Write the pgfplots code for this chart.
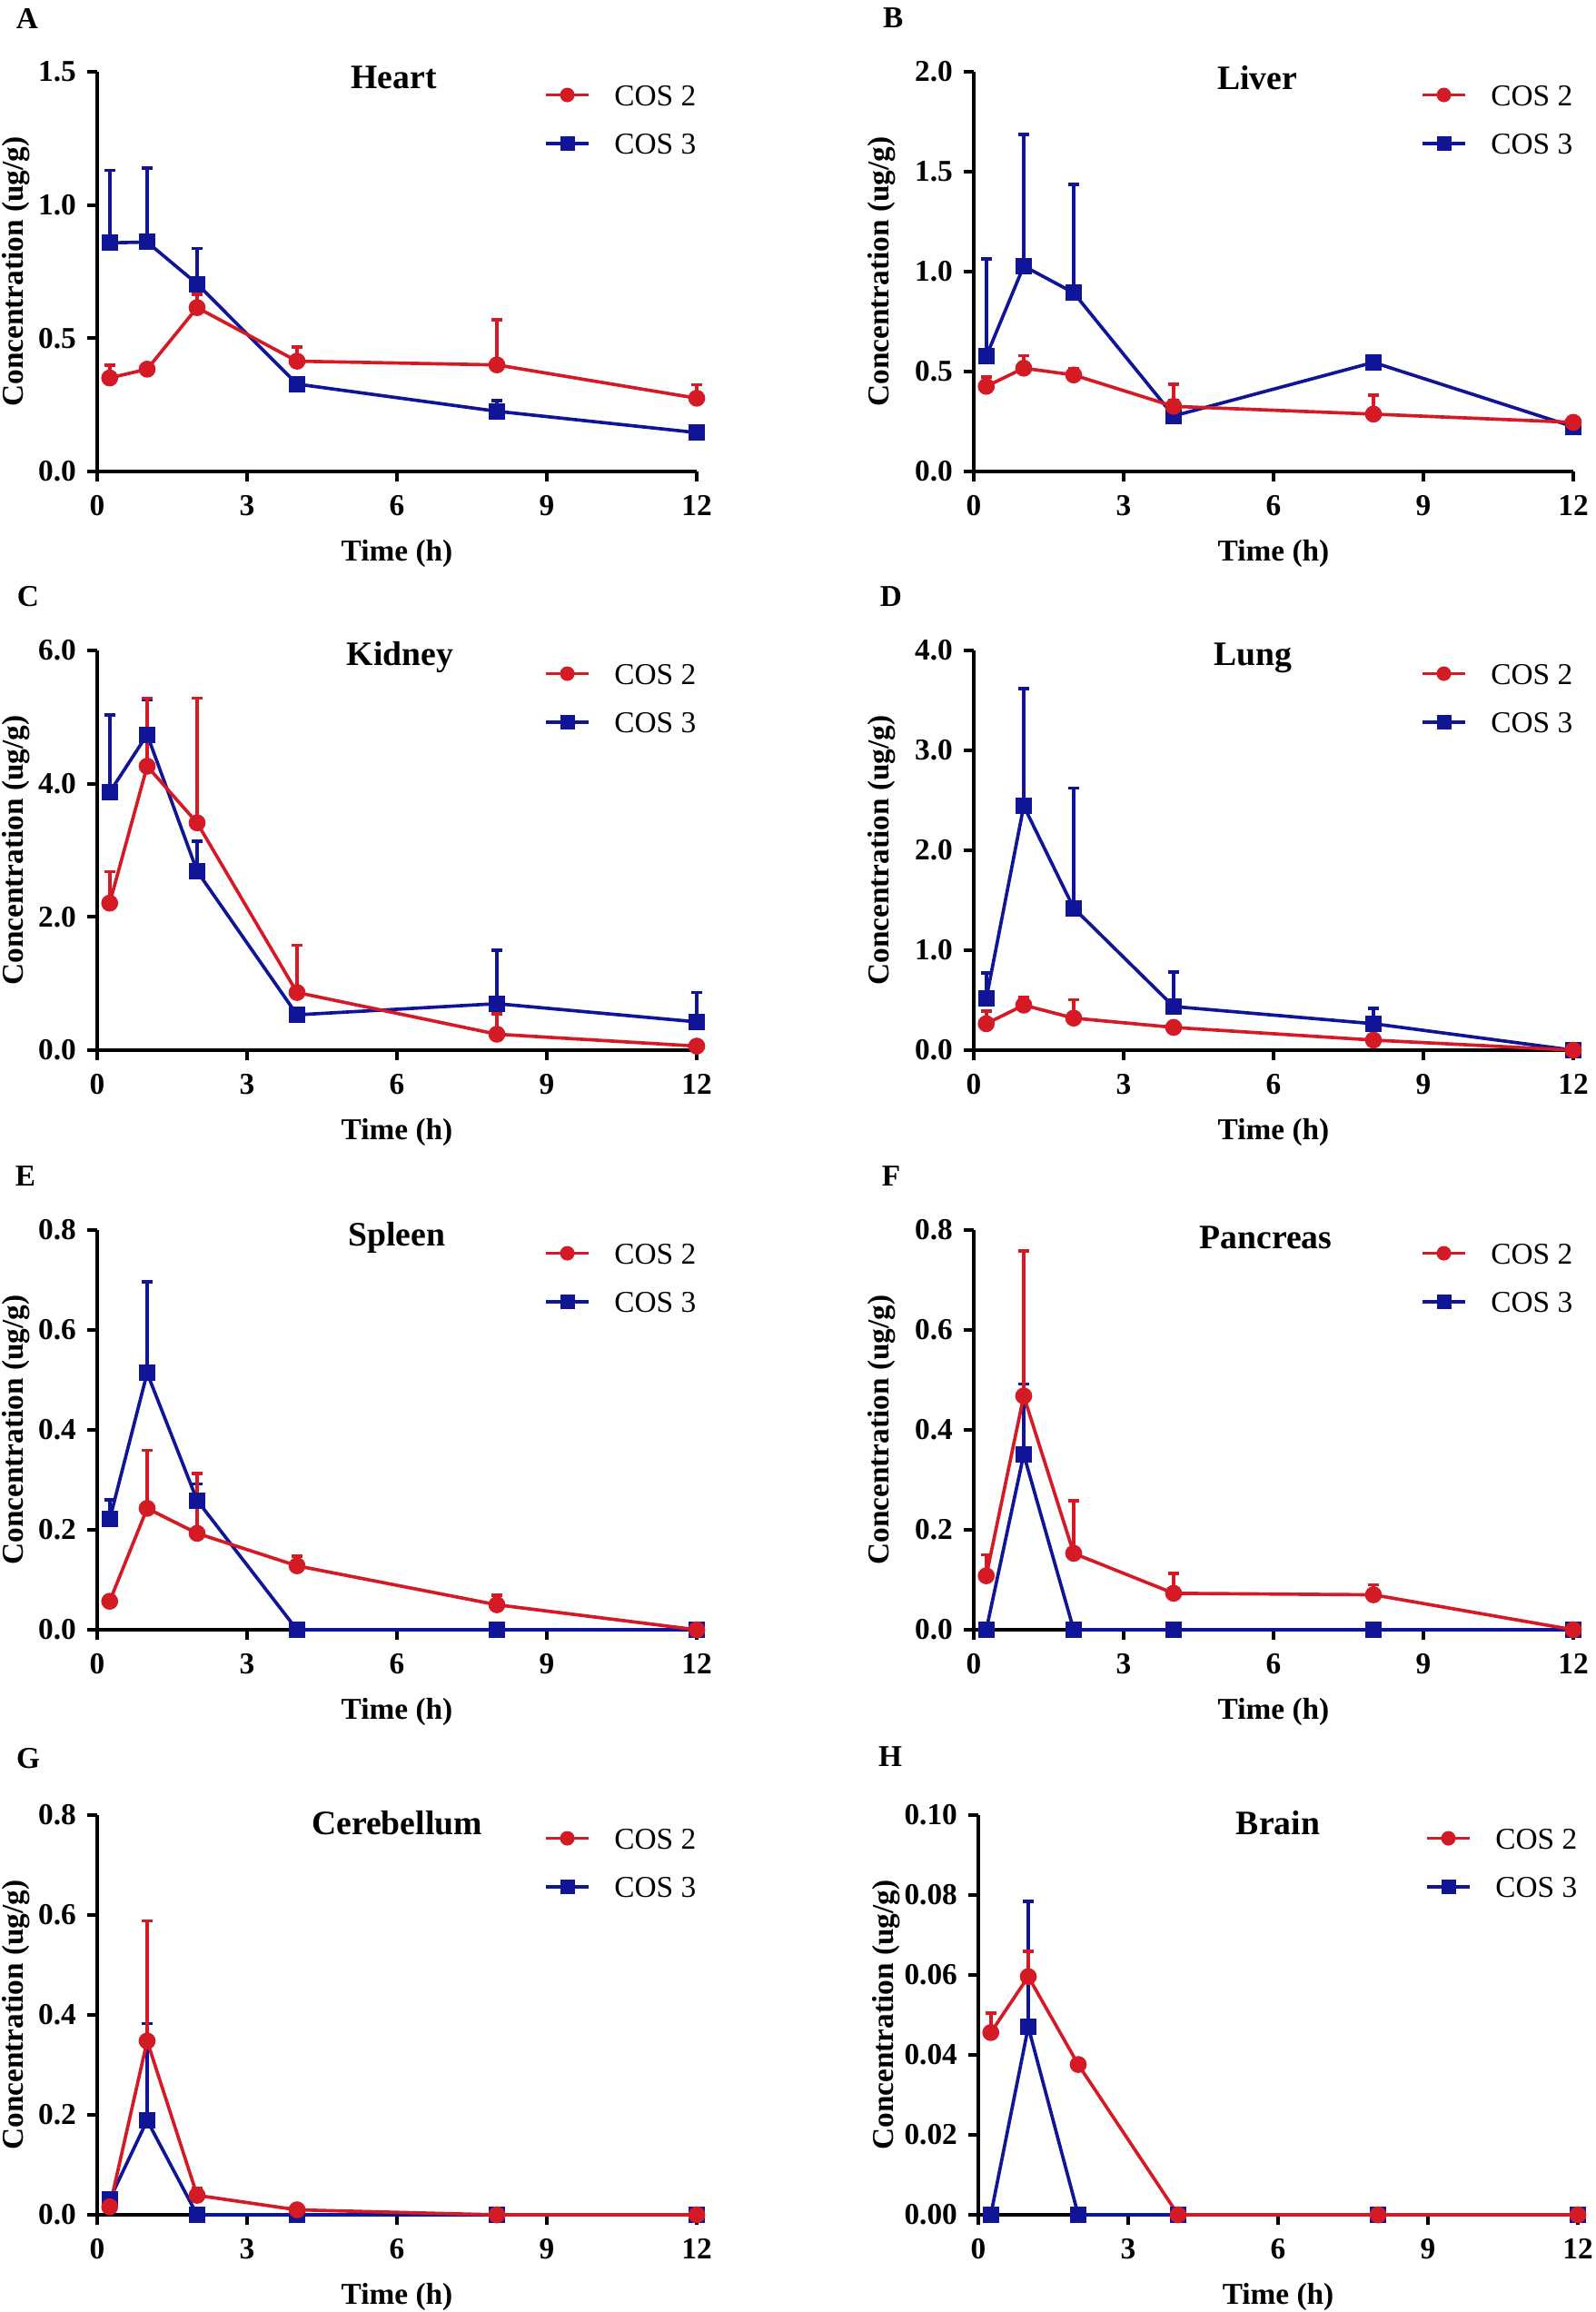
\documentclass[border=0pt]{standalone}
\usepackage{fontspec}
\setmainfont{Liberation Serif}
\usepackage{pgfplots}
\usepackage{pgfplotstable}
\pgfplotsset{compat=1.18}

\definecolor{cred}{RGB}{212,26,36}
\definecolor{cblue}{RGB}{16,20,150}

% columns: time, COS 2 mean, COS 2 SD (upper), COS 3 mean, COS 3 SD (upper)
\pgfplotstableread{
t m2 e2 m3 e3
0.25 0.351 0.049 0.858 0.272
1 0.384 0 0.861 0.278
2 0.615 0.050 0.704 0.133
4 0.414 0.052 0.328 0
8 0.400 0.170 0.226 0.039
12 0.275 0.051 0.146 0
}\tabA
\pgfplotstableread{
t m2 e2 m3 e3
0.25 0.426 0.048 0.576 0.489
1 0.517 0.063 1.028 0.657
2 0.483 0.030 0.894 0.541
4 0.326 0.109 0.278 0.079
8 0.287 0.096 0.546 0
12 0.246 0 0.224 0
}\tabB
\pgfplotstableread{
t m2 e2 m3 e3
0.25 2.207 0.473 3.872 1.156
1 4.263 1.022 4.737 0.531
2 3.413 1.872 2.687 0.447
4 0.866 0.709 0.531 0
8 0.240 0.307 0.698 0.799
12 0.061 0 0.425 0.441
}\tabC
\pgfplotstableread{
t m2 e2 m3 e3
0.25 0.265 0.127 0.515 0.257
1 0.451 0.079 2.444 1.172
2 0.321 0.183 1.422 1.201
4 0.228 0 0.437 0.343
8 0.101 0 0.265 0.153
12 0 0 0 0
}\tabD
\pgfplotstableread{
t m2 e2 m3 e3
0.25 0.057 0 0.221 0.039
1 0.243 0.116 0.514 0.182
2 0.193 0.120 0.259 0.033
4 0.128 0.019 0 0
8 0.050 0.019 0 0
12 0 0 0 0
}\tabE
\pgfplotstableread{
t m2 e2 m3 e3
0.25 0.108 0.042 0 0
1 0.468 0.290 0.351 0.141
2 0.153 0.105 0 0
4 0.073 0.040 0 0
8 0.070 0.020 0 0
12 0 0 0 0
}\tabF
\pgfplotstableread{
t m2 e2 m3 e3
0.25 0.016 0 0.031 0
1 0.348 0.240 0.189 0.194
2 0.039 0.014 0 0
4 0.010 0 0 0
8 0 0 0 0
12 0 0 0 0
}\tabG
\pgfplotstableread{
t m2 e2 m3 e3
0.25 0.0456 0.0048 0 0
1 0.0596 0.0063 0.047 0.0314
2 0.0376 0 0 0
4 0 0 0 0
8 0 0 0 0
12 0 0 0 0
}\tabH

\pgfplotsset{
  panel/.style={
    scale only axis, width=198pt, height=132pt,
    anchor=south west,
    xmin=0, xmax=12, ymin=0,
    xtick={0,3,6,9,12},
    axis lines=left,
    axis line style={-, line width=1.25pt},
    tick style={line width=1.25pt, black},
    major tick length=3.4pt,
    tick align=outside,
    clip=false,
    /pgf/number format/assume math mode=true,
    tick label style={font=\fontsize{10}{11}\selectfont\bfseries},
    xticklabel style={yshift=-1pt},
    yticklabel style={/pgf/number format/.cd, fixed, fixed zerofill, precision=1},
    xlabel={Time (h)},
    ylabel={Concentration (ug/g)},
    xlabel style={at={(axis description cs:0.5,-0.205)}, anchor=center, font=\fontsize{10}{12}\selectfont\bfseries},
    ylabel style={at={(axis description cs:-0.135,0.5)}, anchor=center, font=\fontsize{10}{12}\selectfont\bfseries},
    every axis title shift=0pt,
    title style={at={(axis description cs:0.495,0.986)}, anchor=center, yshift=0pt, font=\fontsize{11.3}{13}\selectfont\bfseries},
    legend style={at={(axis description cs:0.745,0.97)}, anchor=north west, draw=none, fill=none,
      inner sep=0pt, row sep=9pt, column sep=8pt,
      font=\fontsize{10}{12}\selectfont,
      nodes={inner sep=0pt, text height=7pt, text depth=0pt}},
    legend cell align=left,
    reverse legend,
    legend image code/.code={\draw[mark repeat=2,mark phase=2, mark size=2.2pt] plot coordinates {(0pt,0pt) (7pt,0pt) (14pt,0pt)};},
  },
  rightcol/.style={ylabel style={at={(axis description cs:-0.153,0.5)}}},
  cos2/.style={cred, line width=1.1pt, mark=*, mark size=2.6pt, mark options={solid, fill=cred, line width=0.4pt},
    error bars/.cd, y dir=plus, y explicit,
    error bar style={line width=1.1pt, cred},
    error mark options={rotate=90, cred, line width=1.1pt, mark size=1.8pt}},
  cos3/.style={cblue, line width=1.1pt, mark=square*, mark size=2.5pt, mark options={solid, fill=cblue, line width=0.4pt},
    error bars/.cd, y dir=plus, y explicit,
    error bar style={line width=1.1pt, cblue},
    error mark options={rotate=90, cblue, line width=1.1pt, mark size=1.8pt}},
}

\newcommand{\twoseries}[1]{%
  \addplot[cos3] table[x=t, y=m3, y error=e3] {#1};
  \addlegendentry{COS 3}
  \addplot[cos2] table[x=t, y=m2, y error=e2] {#1};
  \addlegendentry{COS 2}
}

\begin{document}
\begin{tikzpicture}
\useasboundingbox (0pt,0pt) rectangle (527.1pt,-763.5pt);

% A Heart
\begin{axis}[panel, at={(32.1pt,-155.7pt)}, ymax=1.5, ytick={0,0.5,1,1.5}, title={Heart}]
\twoseries{\tabA}
\end{axis}
% B Liver
\begin{axis}[panel, rightcol, at={(321.6pt,-155.7pt)}, ymax=2, ytick={0,0.5,1,1.5,2}, title={Liver},
  title style={at={(axis description cs:0.473,0.986)}}]
\twoseries{\tabB}
\end{axis}
% C Kidney
\begin{axis}[panel, at={(32.1pt,-346.8pt)}, ymax=6, ytick={0,2,4,6}, title={Kidney},
  title style={at={(axis description cs:0.505,0.982)}}]
\twoseries{\tabC}
\end{axis}
% D Lung
\begin{axis}[panel, rightcol, at={(321.6pt,-346.8pt)}, ymax=4, ytick={0,1,2,3,4}, title={Lung},
  title style={at={(axis description cs:0.466,0.982)}}]
\twoseries{\tabD}
\end{axis}
% E Spleen
\begin{axis}[panel, at={(32.1pt,-538.2pt)}, ymax=0.8, ytick={0,0.2,0.4,0.6,0.8}, title={Spleen},
  title style={at={(axis description cs:0.5,0.982)}}]
\twoseries{\tabE}
\end{axis}
% F Pancreas
\begin{axis}[panel, rightcol, at={(321.6pt,-538.2pt)}, ymax=0.8, ytick={0,0.2,0.4,0.6,0.8}, title={Pancreas},
  title style={at={(axis description cs:0.487,0.982)}}]
\twoseries{\tabF}
\end{axis}
% G Cerebellum
\begin{axis}[panel, at={(32.1pt,-731.4pt)}, ymax=0.8, ytick={0,0.2,0.4,0.6,0.8}, title={Cerebellum},
  title style={at={(axis description cs:0.5,0.98)}}]
\twoseries{\tabG}
\end{axis}
% H Brain
\begin{axis}[panel, rightcol, at={(323.1pt,-731.4pt)}, ymax=0.1, ytick={0,0.02,0.04,0.06,0.08,0.1},
  yticklabel style={/pgf/number format/precision=2}, title={Brain},
  title style={at={(axis description cs:0.5,0.98)}}]
\twoseries{\tabH}
\end{axis}

\begin{scope}[every node/.style={font=\fontsize{10}{11}\selectfont\bfseries}]
\node at (9pt,-6pt) {A};
\node at (295pt,-6pt) {B};
\node at (9.3pt,-197.1pt) {C};
\node at (294.3pt,-197.1pt) {D};
\node at (8.4pt,-388.5pt) {E};
\node at (294.3pt,-388.5pt) {F};
\node at (9.3pt,-580.8pt) {G};
\node at (294pt,-580.2pt) {H};
\end{scope}
\end{tikzpicture}
\end{document}
